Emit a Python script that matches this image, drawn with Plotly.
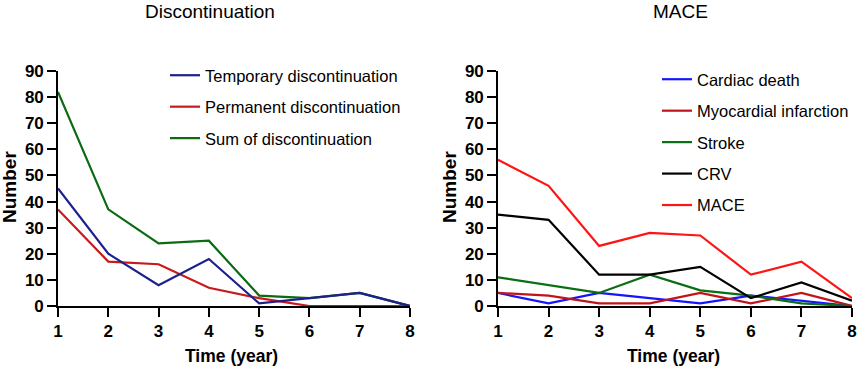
import plotly.graph_objects as go

years = [1, 2, 3, 4, 5, 6, 7, 8]

# Discontinuation panel
temporary = [45, 20, 8, 18, 1, 3, 5, 0]
permanent = [37, 17, 16, 7, 3, 0, 0, 0]
sum_disc = [82, 37, 24, 25, 4, 3, 5, 0]

# MACE panel
cardiac_death = [5, 1, 5, 3, 1, 4, 2, 0]
mi = [5, 4, 1, 1, 5, 1, 5, 0]
stroke = [11, 8, 5, 12, 6, 4, 1, 0]
crv = [35, 33, 12, 12, 15, 3, 9, 2]
mace = [56, 46, 23, 28, 27, 12, 17, 3]

y_ticks = [0, 10, 20, 30, 40, 50, 60, 70, 80, 90]

FONT = "Arial, Liberation Sans, sans-serif"
W, H = 858, 370

fig = go.Figure()

left_series = [
    ("Sum of discontinuation", sum_disc, "#0b6a12", 3),
    ("Permanent discontinuation", permanent, "#c81a1a", 2),
    ("Temporary discontinuation", temporary, "#1c1f8c", 1),
]
for name, vals, col, rank in left_series:
    fig.add_trace(go.Scatter(
        x=years, y=vals, name=name, mode="lines",
        line=dict(color=col, width=2.2),
        xaxis="x", yaxis="y", legend="legend",
        legendrank=rank, legendgroup=name,
    ))

right_series = [
    ("Cardiac death", cardiac_death, "#1414ff", 1),
    ("Myocardial infarction", mi, "#c0141a", 2),
    ("Stroke", stroke, "#0a6e12", 3),
    ("CRV", crv, "#000000", 4),
    ("MACE", mace, "#ff1414", 5),
]
for name, vals, col, rank in right_series:
    fig.add_trace(go.Scatter(
        x=years, y=vals, name=name, mode="lines",
        line=dict(color=col, width=2.2),
        xaxis="x2", yaxis="y2", legend="legend2",
        legendrank=rank, legendgroup=name,
    ))

axis_common = dict(
    showgrid=False, zeroline=False, showline=True, linecolor="black",
    linewidth=1.6, ticks="outside", ticklen=9, tickwidth=1.6,
    tickcolor="black", automargin=False,
    tickfont=dict(family=FONT, size=17, color="black", weight="bold"),
)

xl = [58 / W, 410 / W]
xr = [498 / W, 852 / W]
yd = [1 - 306 / H, 1 - 71 / H]

fig.update_layout(
    width=W, height=H,
    margin=dict(l=0, r=0, t=0, b=0),
    paper_bgcolor="white", plot_bgcolor="white",
    font=dict(family=FONT, color="black"),
    xaxis=dict(domain=xl, range=[1, 8], tickvals=years, anchor="y", **axis_common),
    yaxis=dict(domain=yd, range=[0, 90], tickvals=y_ticks, anchor="x", **axis_common),
    xaxis2=dict(domain=xr, range=[1, 8], tickvals=years, anchor="y2", **axis_common),
    yaxis2=dict(domain=yd, range=[0, 90], tickvals=y_ticks, anchor="x2", **axis_common),
    legend=dict(
        x=165 / W, y=1 - 58 / H, xanchor="left", yanchor="top",
        font=dict(family=FONT, size=16.5, color="black"),
        bgcolor="rgba(0,0,0,0)", traceorder="grouped", tracegroupgap=7,
    ),
    legend2=dict(
        x=657 / W, y=1 - 62 / H, xanchor="left", yanchor="top",
        font=dict(family=FONT, size=16.5, color="black"),
        bgcolor="rgba(0,0,0,0)", traceorder="grouped", tracegroupgap=7,
    ),
    showlegend=True,
)

annotations = [
    dict(text="Discontinuation", x=210 / W, y=1 - 11 / H, font=dict(size=19)),
    dict(text="MACE", x=680 / W, y=1 - 11 / H, font=dict(size=19)),
    dict(text="Time (year)", x=231 / W, y=1 - 356 / H, font=dict(size=17.5, weight="bold")),
    dict(text="Time (year)", x=673 / W, y=1 - 356 / H, font=dict(size=17.5, weight="bold")),
    dict(text="Number", x=10 / W, y=1 - 187 / H, textangle=-90, font=dict(size=19, weight="bold")),
    dict(text="Number", x=450 / W, y=1 - 187 / H, textangle=-90, font=dict(size=19, weight="bold")),
]
for a in annotations:
    a.update(xref="paper", yref="paper", showarrow=False, xanchor="center", yanchor="middle")
    a["font"].update(family=FONT, color="black")
    fig.add_annotation(**a)

fig.write_html(
    "out.html",
    config={"displayModeBar": False},
    post_script="document.body.style.margin='0';document.body.style.overflow='hidden';",
)
